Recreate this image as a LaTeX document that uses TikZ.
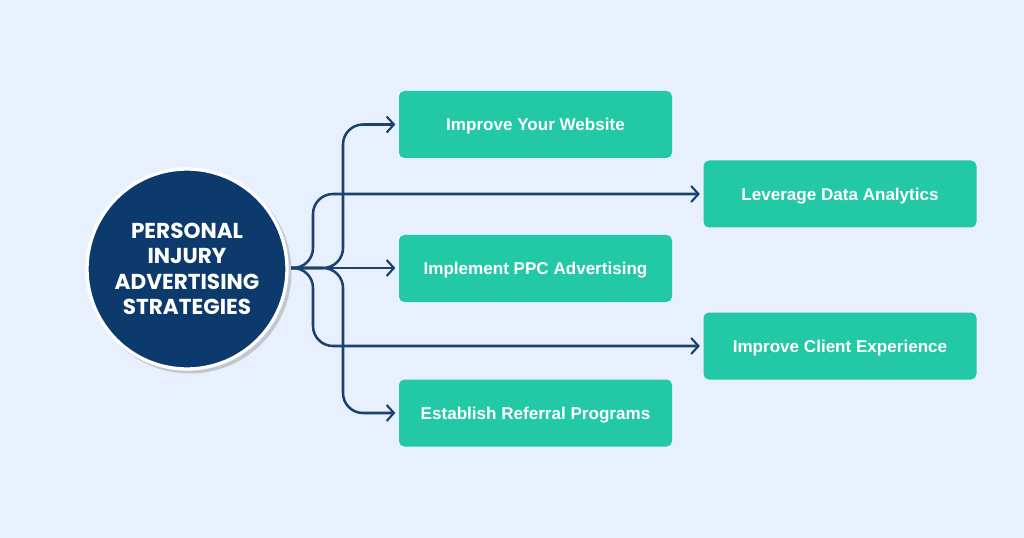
\documentclass[tikz,border=0pt]{standalone}
\usepackage{fontspec}
\setmainfont{Liberation Sans}
\newfontfamily\popfont{Poppins}
\usepackage{xcolor}
\usetikzlibrary{arrows.meta,positioning}
\definecolor{adBack}{HTML}{E8F0FD}
\definecolor{adNavy}{HTML}{0D3A6C}
\definecolor{adLine}{HTML}{1B416F}
\definecolor{adTeal}{HTML}{23C9A6}
\definecolor{adShade}{HTML}{C3C8CF}
\tikzset{
  strategy/.style={fill=adTeal,rounded corners=4pt,minimum width=204.75pt,
    minimum height=50.25pt,text=white,text depth=0pt,
    font=\bfseries\fontsize{12.8}{15}\selectfont},
  link/.style={adLine,line width=1.9pt,rounded corners=15pt,
    -{Straight Barb[length=5.5pt,width=12pt,line width=1.6pt]},shorten >=2.5pt}
}
\begin{document}
\begin{tikzpicture}[x=0.75pt,y=-0.75pt]
  \fill[adBack] (0,0) rectangle (1024,538);
  \useasboundingbox (0,0) rectangle (1024,538);
  % centre circle with its shadow
  \fill[adShade] (190,272) circle (101.5);
  \node[circle,fill=adNavy,draw=white,line width=2.5pt,minimum size=150pt,
    text=white,align=center,font=\popfont\bfseries\fontsize{16.2}{19}\selectfont]
    (centre) at (187,269) {PERSONAL\\INJURY\\ADVERTISING\\STRATEGIES};
  % strategy boxes
  \node[strategy] (web)      at (535.5,124.5) {Improve Your Website};
  \node[strategy] (data)     at (840,194)   {Leverage Data Analytics};
  \node[strategy] (ppc)      at (535.5,268.5) {Implement PPC Advertising};
  \node[strategy] (client)   at (840,346)   {Improve Client Experience};
  \node[strategy] (referral) at (535.5,413)   {Establish Referral Programs};
  \coordinate (hub) at (291,268);
  % connectors
  \draw[link] (hub) -- (ppc.west |- hub);
  \draw[link] (hub) -- (313,268) -- (313,194) -- (data.west);
  \draw[link] (hub) -- (313,268) -- (313,346) -- (client.west);
  \draw[link] (hub) -- (343,268) -- (343,124.5) -- (web.west);
  \draw[link] (hub) -- (343,268) -- (343,413) -- (referral.west);
\end{tikzpicture}
\end{document}
